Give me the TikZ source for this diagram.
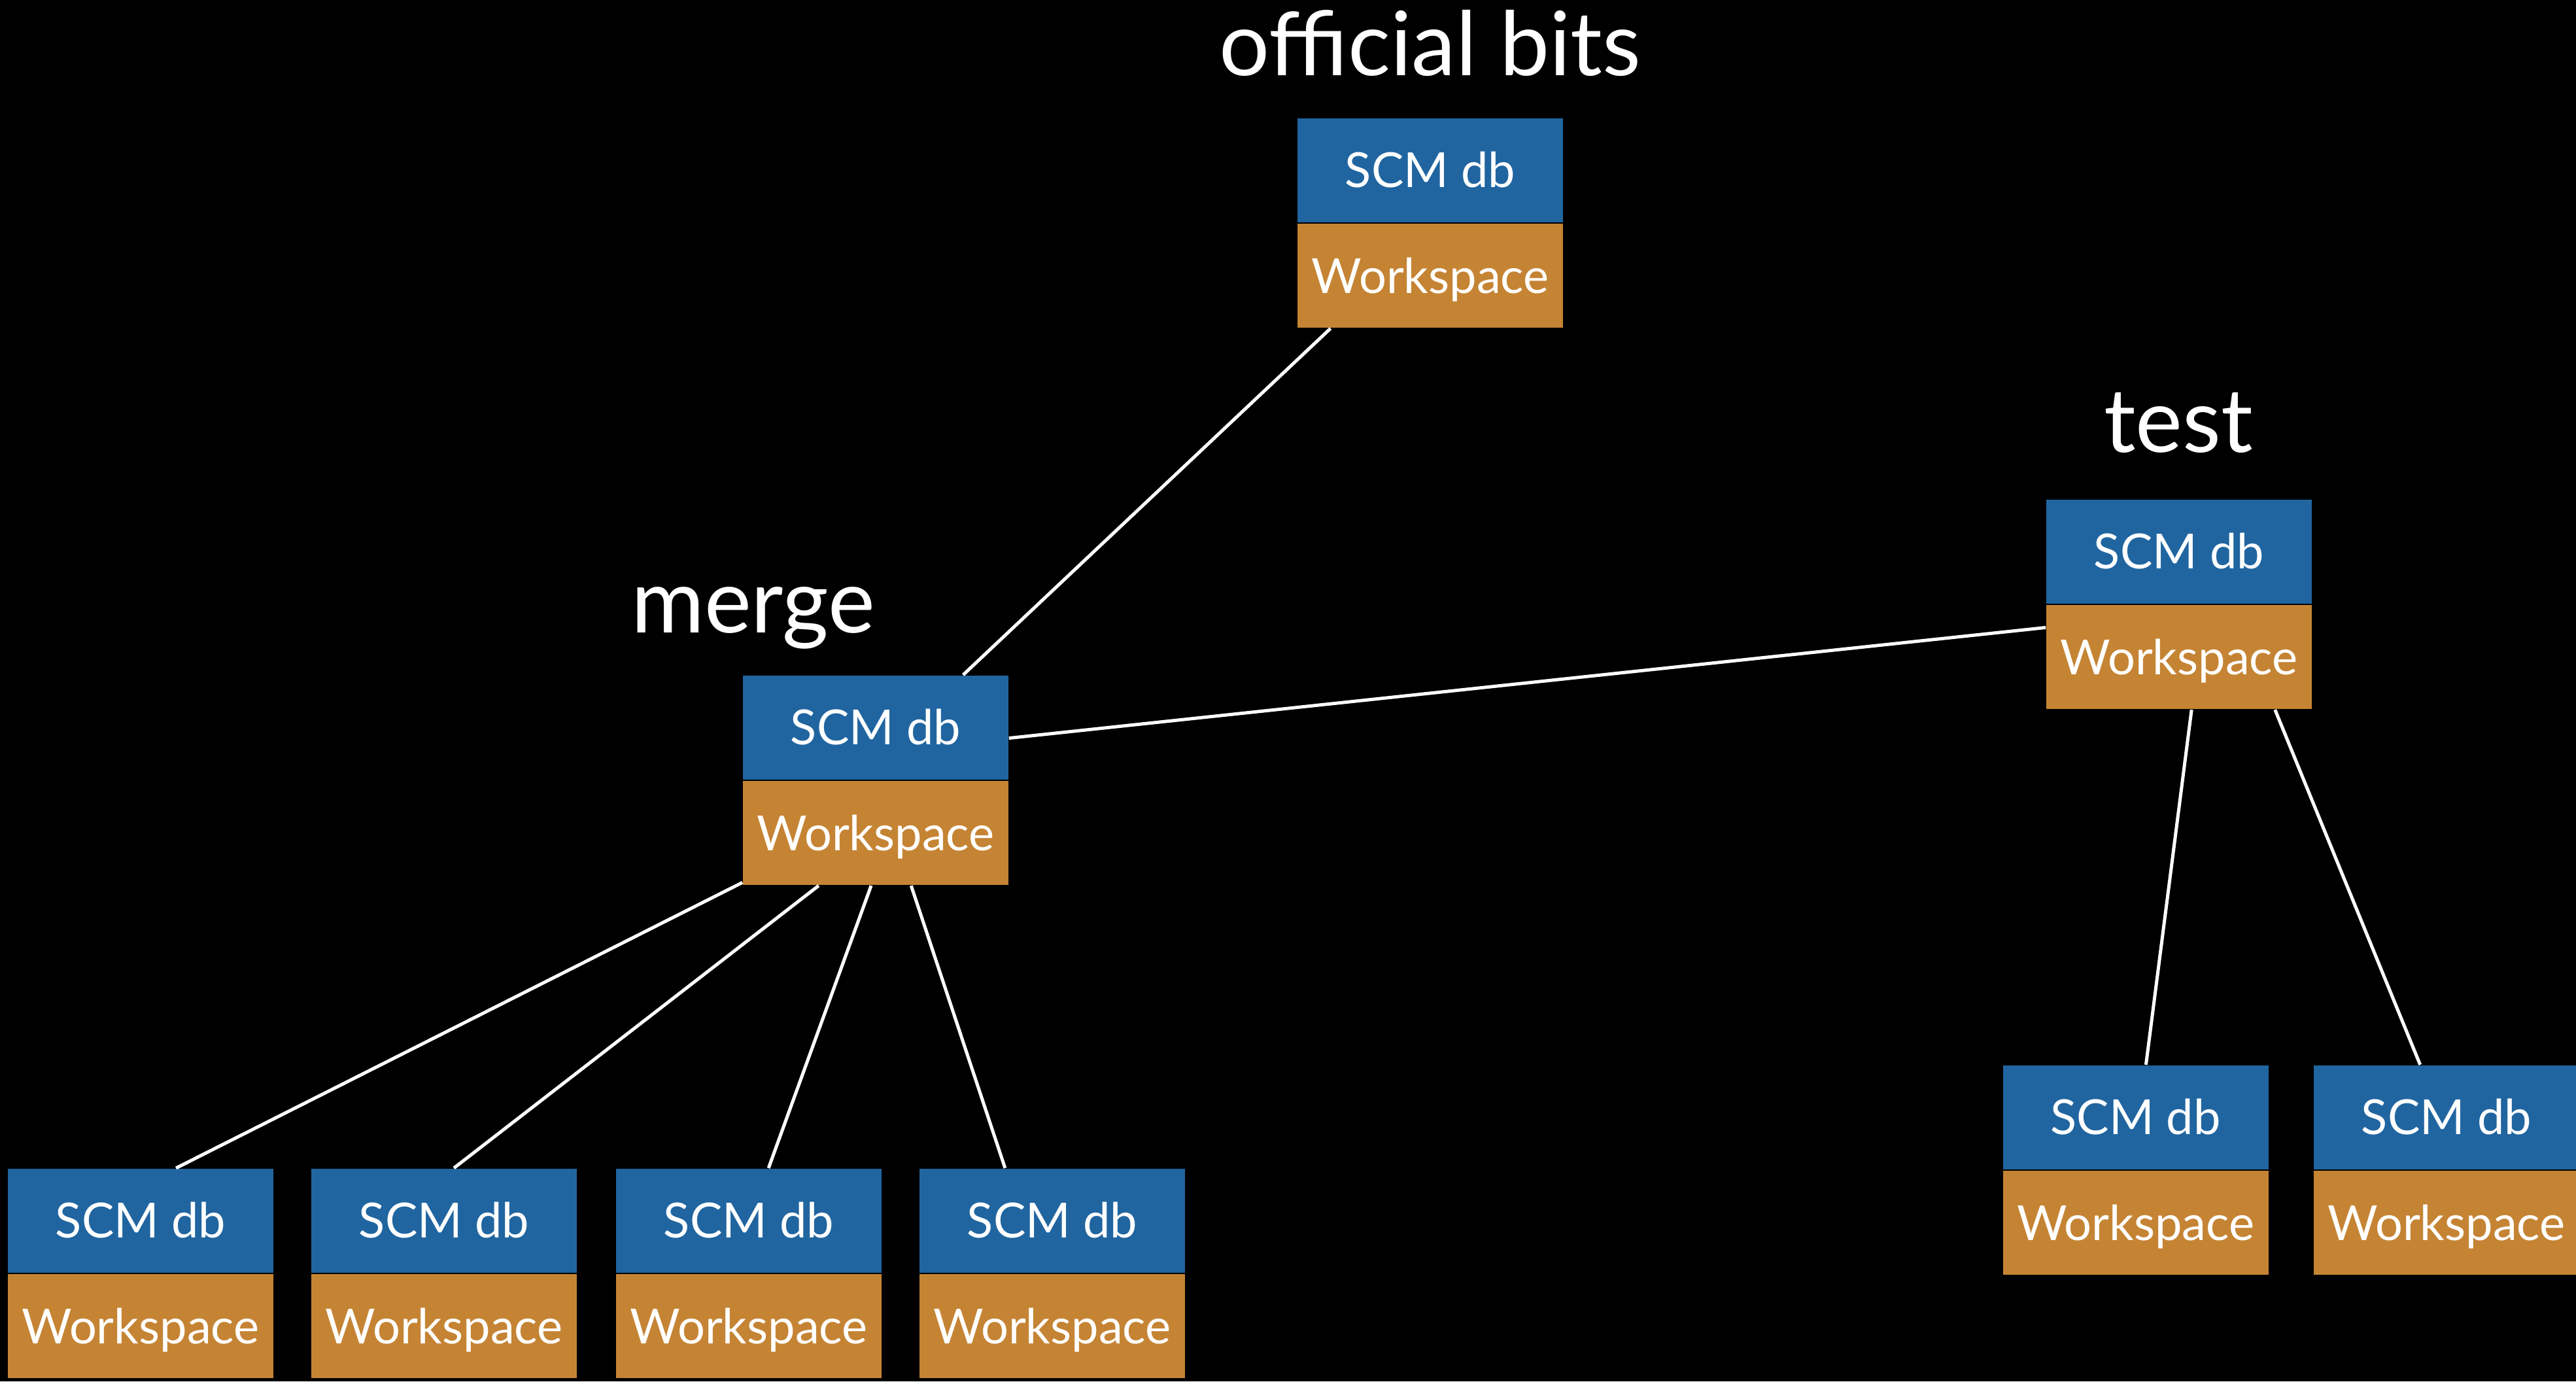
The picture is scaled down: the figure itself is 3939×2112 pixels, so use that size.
\documentclass[tikz,border=0pt]{standalone}
\usepackage{fontspec}
\setmainfont{Lato}
\usetikzlibrary{calc}
\definecolor{dbblue}{RGB}{32,101,160}
\definecolor{wsorange}{RGB}{197,132,52}

% One repository: SCM db on top of its Workspace, split line at (x,y)
\newcommand\vcsbox[3]{%
  \node[dbpart] (#1-db) at (#2,#3) {SCM db};
  \node[wspart] (#1-ws) at (#2,#3) {Workspace};
}

\begin{document}
\begin{tikzpicture}[x=0.25pt,y=-0.25pt,
  half/.style={rectangle, inner sep=0pt, minimum width=101.5pt,
    minimum height=39.875pt, text=white,
    font=\fontsize{18.5}{20}\selectfont, text height=13.25pt, text depth=0pt},
  dbpart/.style={half, fill=dbblue, anchor=south},
  wspart/.style={half, fill=wsorange, anchor=north},
  title/.style={text=white, font=\fontsize{34}{40}\selectfont, inner sep=0pt},
  link/.style={draw=white, line width=1.25pt}]

\useasboundingbox (0,0) rectangle (3939,2112);
\fill[black] (0,0) rectangle (3939,2112);

% repositories
\vcsbox{off}{2187}{341}
\vcsbox{merge}{1339}{1193}
\vcsbox{test}{3332}{924}
\vcsbox{b1}{215}{1947}
\vcsbox{b2}{679}{1947}
\vcsbox{b3}{1145}{1947}
\vcsbox{b4}{1609}{1947}
\vcsbox{r1}{3265.5}{1789}
\vcsbox{r2}{3741}{1789}

% titles
\node[title, anchor=base] (offt) at (2187,115) {official bits};
\node[title, anchor=base east] (merget) at (1339,967) {merge};
\node[title, anchor=base] (testt) at (3331,691) {test};

% connections
\draw[link] ($(off-ws.south west)!0.126!(off-ws.south east)$)
  -- ($(merge-db.north west)!0.828!(merge-db.north east)$);
\draw[link] ($(merge-db.north east)!0.60!(merge-db.south east)$)
  -- ($(test-ws.north west)!0.22!(test-ws.south west)$);
\draw[link] ($(merge-ws.south west)!0.03!(merge-ws.north west)$)
  -- ($(b1-db.north west)!0.633!(b1-db.north east)$);
\draw[link] ($(merge-ws.south west)!0.286!(merge-ws.south east)$)
  -- ($(b2-db.north west)!0.537!(b2-db.north east)$);
\draw[link] ($(merge-ws.south west)!0.483!(merge-ws.south east)$)
  -- ($(b3-db.north west)!0.574!(b3-db.north east)$);
\draw[link] ($(merge-ws.south west)!0.633!(merge-ws.south east)$)
  -- ($(b4-db.north west)!0.323!(b4-db.north east)$);
\draw[link] ($(test-ws.south west)!0.547!(test-ws.south east)$)
  -- ($(r1-db.north west)!0.539!(r1-db.north east)$);
\draw[link] ($(test-ws.south west)!0.860!(test-ws.south east)$)
  -- ($(r2-db.north west)!0.401!(r2-db.north east)$);
\end{tikzpicture}
\end{document}
